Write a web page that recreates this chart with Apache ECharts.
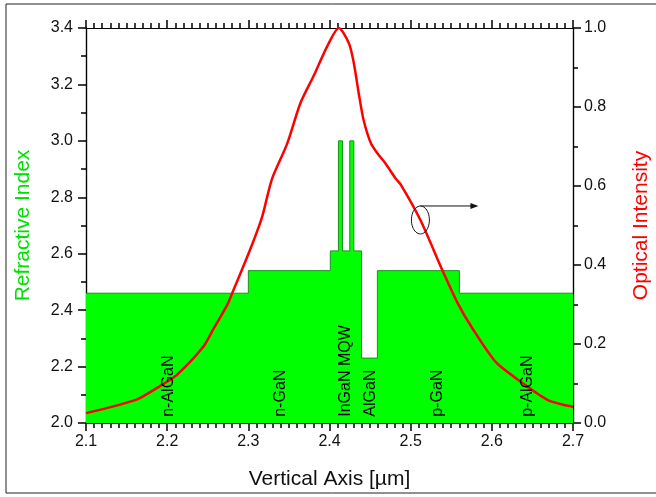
<!DOCTYPE html>
<html>
<head>
<meta charset="utf-8">
<script src="https://cdn.jsdelivr.net/npm/echarts@6/dist/echarts.min.js"></script>
<style>
  html, body { margin: 0; padding: 0; background: #fff; }
  #main { width: 656px; height: 497px; }
</style>
</head>
<body>
<div id="main"></div>
<script>
// layer boundaries (um) and refractive index of each layer
var edges = [2.1, 2.3, 2.401, 2.411, 2.416, 2.425, 2.430, 2.4395, 2.459, 2.56, 2.7];
var nIndex = [2.46, 2.54, 2.61, 3.0, 2.61, 3.0, 2.61, 2.23, 2.54, 2.46];

// optical intensity profile
var posX = [2.1, 2.163, 2.193, 2.212, 2.2445, 2.257, 2.274, 2.28, 2.302, 2.317, 2.329, 2.348, 2.364,
  2.381, 2.397, 2.4115, 2.424, 2.43, 2.436, 2.442, 2.451, 2.459, 2.469, 2.4815, 2.488, 2.512,
  2.539, 2.558, 2.576, 2.605, 2.636, 2.669, 2.7];
var intensity = [0.025, 0.060, 0.096, 0.122, 0.193, 0.238, 0.299, 0.328, 0.438, 0.522, 0.617, 0.708, 0.809,
  0.881, 0.953, 1.0, 0.961, 0.911, 0.835, 0.767, 0.708, 0.683, 0.657, 0.619, 0.603, 0.514,
  0.387, 0.303, 0.240, 0.154, 0.104, 0.058, 0.041];

var layerNames = ['n-AlGaN', 'n-GaN', 'InGaN MQW', 'AlGaN', 'p-GaN', 'p-AlGaN'];
var layerPos = [2.2016, 2.3395, 2.4198, 2.4506, 2.533, 2.644];

var font = 'Liberation Sans, Arial, sans-serif';

// fresh objects for every axis (echarts merges defaults into them)
function tick() {
  return { show: true, length: 8, lineStyle: { color: '#000', width: 1.5 } };
}
function minor(n) {
  return { show: true, splitNumber: n, length: 5, lineStyle: { color: '#000', width: 1.5 } };
}
function axLine() {
  return { show: true, onZero: false, lineStyle: { color: '#000', width: 1.2 } };
}
function labels(margin) {
  return {
    margin: margin, fontFamily: font, fontSize: 16, color: '#111',
    formatter: function(v) { return v.toFixed(1); }
  };
}
// axis that only draws the line and ticks (no labels, no name)
function tickAxis(pos, min, max, interval, n) {
  return {
    type: 'value', position: pos, min: min, max: max, interval: interval,
    axisLine: axLine(), axisTick: tick(), minorTick: minor(n),
    axisLabel: { show: false }, splitLine: { show: false }
  };
}

function buildOption() {
  // step profile
  var stepData = [];
  for (var i = 0; i < nIndex.length; i++) {
    stepData.push([edges[i], nIndex[i]]);
    stepData.push([edges[i + 1], nIndex[i]]);
  }
  var lineData = posX.map(function(x, i) { return [x, intensity[i]]; });

  return {
    animation: false,
    grid: { left: 86, right: 83, top: 28, bottom: 74, containLabel: false, outerBoundsMode: 'none' },
    xAxis: [{
      type: 'value', position: 'bottom', min: 2.1, max: 2.7, interval: 0.1,
      name: 'Vertical Axis [\u00b5m]', nameLocation: 'middle', nameGap: 46,
      nameTextStyle: { fontFamily: font, fontSize: 21, color: '#111' },
      axisLine: axLine(), axisTick: { show: false }, minorTick: { show: false },
      axisLabel: labels(11),
      splitLine: { show: false }
    },
      tickAxis('top', 2.1, 2.7, 0.1, 10),
      tickAxis('bottom', 2.1, 2.7, 0.1, 10)
    ],
    yAxis: [{
      type: 'value', position: 'left', min: 2.0, max: 3.4, interval: 0.2,
      name: 'Refractive Index', nameLocation: 'middle', nameGap: 52, nameRotate: 90,
      nameTextStyle: { fontFamily: font, fontSize: 21, color: '#00e000' },
      axisLine: axLine(), axisTick: { show: false }, minorTick: { show: false },
      axisLabel: labels(13),
      splitLine: { show: false }
    }, {
      type: 'value', min: 0, max: 1, interval: 0.2, position: 'right',
      name: 'Optical Intensity', nameLocation: 'middle', nameGap: 58, nameRotate: 90,
      nameTextStyle: { fontFamily: font, fontSize: 21, color: '#ff0000' },
      axisLine: axLine(), axisTick: { show: false }, minorTick: { show: false },
      axisLabel: labels(11),
      splitLine: { show: false }
    },
      tickAxis('left', 2.0, 3.4, 0.2, 2),
      tickAxis('right', 0, 1, 0.2, 2)
    ],
    series: [{
      type: 'line',
      data: stepData,
      symbol: 'none',
      lineStyle: { color: '#1f8f1f', width: 1 },
      areaStyle: { color: '#00ff00', opacity: 1, origin: 'start' },
      z: 2
    }, {
      type: 'line',
      yAxisIndex: 1,
      data: lineData,
      symbol: 'none',
      smooth: 0.25,
      lineStyle: { color: '#ff0000', width: 2.5 },
      z: 4
    }]
  };
}

window.onload = function() {
  var chart = echarts.init(document.getElementById('main'));
  chart.setOption(buildOption());

  // annotations: layer names, ellipse + arrow, frame
  var g = [];
  g.push({
    type: 'rect', shape: { x: 6, y: 4, width: 700, height: 489 },
    style: { fill: 'none', stroke: '#222', lineWidth: 1 }, z: 0, silent: true
  });
  var yBottom = chart.convertToPixel({ yAxisIndex: 0 }, 2.022);
  layerNames.forEach(function(name, i) {
    var px = chart.convertToPixel({ xAxisIndex: 0 }, layerPos[i]);
    g.push({
      type: 'text', x: px, y: yBottom, rotation: Math.PI / 2, z: 10,
      style: { text: name, fontFamily: font, fontSize: 16, fill: '#000', textAlign: 'left', textVerticalAlign: 'middle' }
    });
  });
  var c = chart.convertToPixel({ xAxisIndex: 0, yAxisIndex: 1 }, [2.512, 0.514]);
  var pts = [];
  for (var k = 0; k < 48; k++) {
    var a = k / 48 * Math.PI * 2;
    pts.push([c[0] + 9 * Math.cos(a), c[1] + 14 * Math.sin(a)]);
  }
  g.push({ type: 'polygon', shape: { points: pts }, style: { fill: 'none', stroke: '#111', lineWidth: 1 }, z: 10 });
  g.push({ type: 'line', shape: { x1: c[0], y1: c[1] - 14, x2: c[0] + 52, y2: c[1] - 14 }, style: { stroke: '#111', lineWidth: 1 }, z: 10 });
  g.push({
    type: 'polygon',
    shape: { points: [[c[0] + 50, c[1] - 17], [c[0] + 58, c[1] - 14], [c[0] + 50, c[1] - 11]] },
    style: { fill: '#111' }, z: 10
  });

  var full = buildOption();
  full.graphic = g;
  chart.clear();
  chart.setOption(full, true);
};
</script>
</body>
</html>
